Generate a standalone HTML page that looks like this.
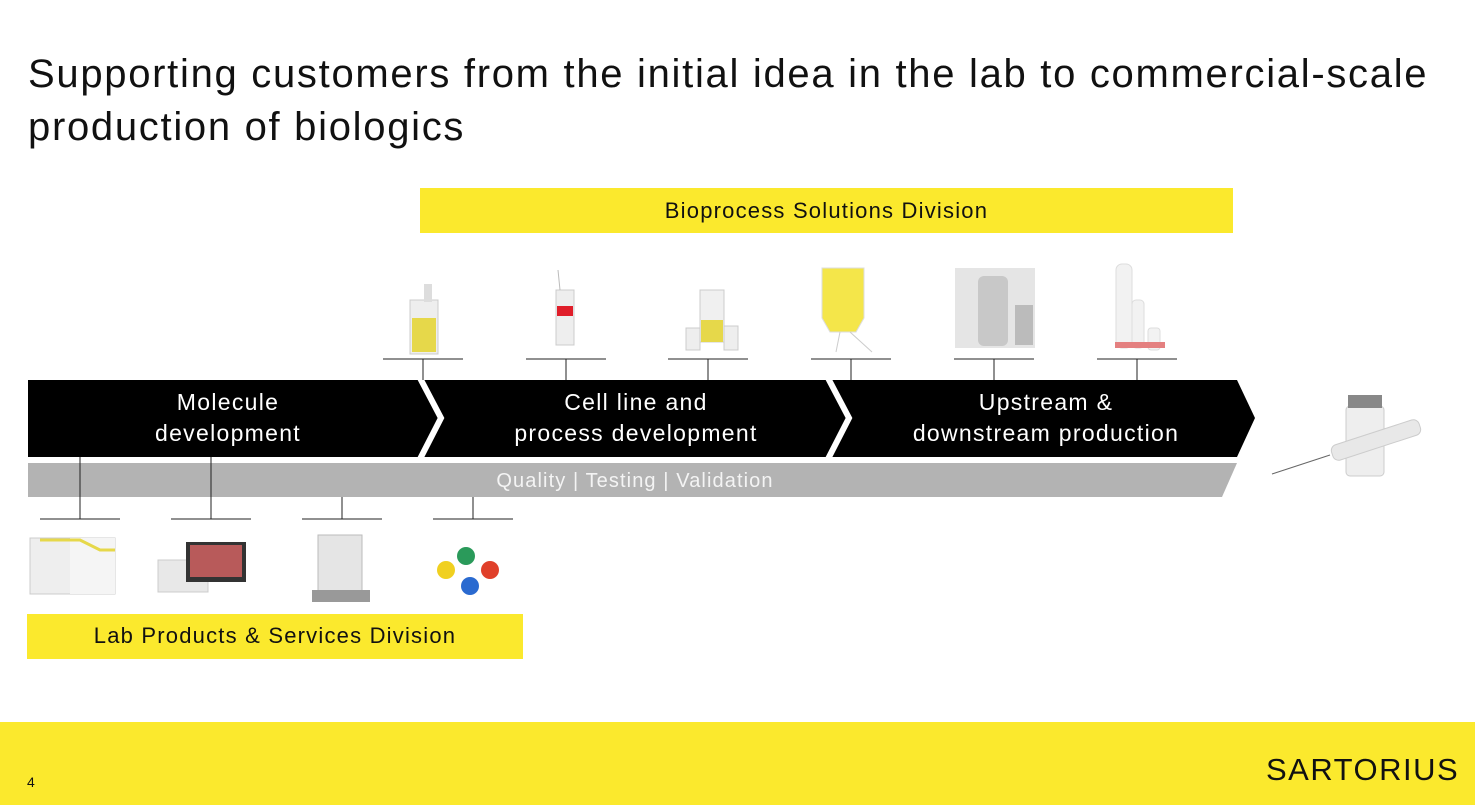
<!DOCTYPE html>
<html><head><meta charset="utf-8"><style>
body{margin:0;width:1475px;height:805px;background:#fff;font-family:"Liberation Sans",sans-serif;position:relative;overflow:hidden}
.t{position:absolute;left:28px;top:48px;font-size:40px;line-height:53px;color:#111;letter-spacing:1.7px}
.y{position:absolute;background:#fbe92d;color:#111;font-size:22px;letter-spacing:1.2px;text-align:center}
</style></head><body>
<div class="t">Supporting customers from the initial idea in the lab to commercial-scale<br>production of biologics</div>
<div class="y" style="left:420px;top:188px;width:813px;height:45px;line-height:45px">Bioprocess Solutions Division</div>
<div class="y" style="left:27px;top:614px;width:496px;height:45px;line-height:43px">Lab Products &amp; Services Division</div>
<svg width="1475" height="805" style="position:absolute;left:0;top:0">
<polygon points="28,463 1237,463 1222,497 28,497" fill="#b3b3b3"/>
<polygon points="28,380 1237,380 1255,418 1237,457 28,457" fill="#000"/>
<polyline points="420,378 441,418 420,459" fill="none" stroke="#fff" stroke-width="6"/>
<polyline points="828,378 849,418 828,459" fill="none" stroke="#fff" stroke-width="6"/>
<g stroke="#222" stroke-width="1">
<line x1="383" y1="359" x2="463" y2="359"/><line x1="423" y1="359" x2="423" y2="380"/>
<line x1="526" y1="359" x2="606" y2="359"/><line x1="566" y1="359" x2="566" y2="380"/>
<line x1="668" y1="359" x2="748" y2="359"/><line x1="708" y1="359" x2="708" y2="380"/>
<line x1="811" y1="359" x2="891" y2="359"/><line x1="851" y1="359" x2="851" y2="380"/>
<line x1="954" y1="359" x2="1034" y2="359"/><line x1="994" y1="359" x2="994" y2="380"/>
<line x1="1097" y1="359" x2="1177" y2="359"/><line x1="1137" y1="359" x2="1137" y2="380"/>
<line x1="40" y1="519" x2="120" y2="519"/><line x1="80" y1="457" x2="80" y2="519"/>
<line x1="171" y1="519" x2="251" y2="519"/><line x1="211" y1="457" x2="211" y2="519"/>
<line x1="302" y1="519" x2="382" y2="519"/><line x1="342" y1="497" x2="342" y2="519"/>
<line x1="433" y1="519" x2="513" y2="519"/><line x1="473" y1="497" x2="473" y2="519"/>
</g>
<g fill="#fff" font-size="23" letter-spacing="1.3" text-anchor="middle" font-family="Liberation Sans,sans-serif">
<text x="228" y="410">Molecule</text><text x="228" y="441">development</text>
<text x="636" y="410">Cell line and</text><text x="636" y="441">process development</text>
<text x="1046" y="410">Upstream &amp;</text><text x="1046" y="441">downstream production</text>
<text x="635" y="487" font-size="20" letter-spacing="1.1" fill="#f4f4f4">Quality | Testing | Validation</text>
</g>
<g>
<rect x="410" y="300" width="28" height="54" fill="#eee" stroke="#ccc"/><rect x="412" y="318" width="24" height="34" fill="#e6d84a"/><rect x="424" y="284" width="8" height="18" fill="#ddd"/>
<rect x="556" y="290" width="18" height="55" fill="#eee" stroke="#ccc"/><rect x="557" y="306" width="16" height="10" fill="#e01e2a"/><line x1="558" y1="270" x2="560" y2="290" stroke="#bbb"/>
<rect x="700" y="290" width="24" height="52" fill="#f0f0f0" stroke="#ccc"/><rect x="701" y="320" width="22" height="22" fill="#e6d84a"/><rect x="686" y="328" width="14" height="22" fill="#eee" stroke="#ccc"/><rect x="724" y="326" width="14" height="24" fill="#eee" stroke="#ccc"/>
<path d="M822 268 h42 v50 l-8 14 h-26 l-8 -14z" fill="#f4e64a" stroke="#ddd"/><line x1="840" y1="332" x2="836" y2="352" stroke="#ccc"/><line x1="850" y1="332" x2="872" y2="352" stroke="#ccc"/>
<rect x="955" y="268" width="80" height="80" fill="#e5e5e5"/><rect x="978" y="276" width="30" height="70" rx="6" fill="#c8c8c8"/><rect x="1015" y="305" width="18" height="40" fill="#bbb"/>
<rect x="1116" y="264" width="16" height="84" rx="6" fill="#f2f2f2" stroke="#ddd"/><rect x="1132" y="300" width="12" height="48" rx="4" fill="#f2f2f2" stroke="#ddd"/><rect x="1148" y="328" width="12" height="22" rx="3" fill="#f2f2f2" stroke="#ddd"/>
<rect x="1115" y="342" width="50" height="6" fill="#e48080"/>
<rect x="1346" y="406" width="38" height="70" rx="4" fill="#eee" stroke="#ccc"/><rect x="1348" y="395" width="34" height="13" fill="#888"/>
<line x1="1272" y1="474" x2="1330" y2="455" stroke="#666"/><rect x="1330" y="432" width="92" height="16" rx="6" transform="rotate(-18 1376 440)" fill="#e8e8e8" stroke="#ccc"/>
<rect x="30" y="538" width="85" height="56" fill="#eee" stroke="#ccc"/><rect x="70" y="538" width="45" height="56" fill="#f5f5f5"/><path d="M40 540 h40 l20 10 h15" stroke="#e6d84a" stroke-width="3" fill="none"/>
<rect x="158" y="560" width="50" height="32" fill="#e8e8e8" stroke="#ccc"/><rect x="186" y="542" width="60" height="40" fill="#333"/><rect x="190" y="545" width="52" height="32" fill="#b85a5a"/>
<rect x="318" y="535" width="44" height="58" fill="#e5e5e5" stroke="#bbb"/><rect x="312" y="590" width="58" height="12" fill="#999"/>
<circle cx="446" cy="570" r="9" fill="#f0d020"/><circle cx="466" cy="556" r="9" fill="#2a9a5a"/><circle cx="490" cy="570" r="9" fill="#e0402a"/><circle cx="470" cy="586" r="9" fill="#2a6ad0"/>
</g>
</svg>
<div style="position:absolute;left:0;top:722px;width:1475px;height:83px;background:#fbe92d"></div>
<div style="position:absolute;left:27px;top:774px;font-size:14px;color:#111">4</div>
<div style="position:absolute;left:1266px;top:752px;font-size:31px;letter-spacing:1.5px;color:#111">SARTORIUS</div>
</body></html>
